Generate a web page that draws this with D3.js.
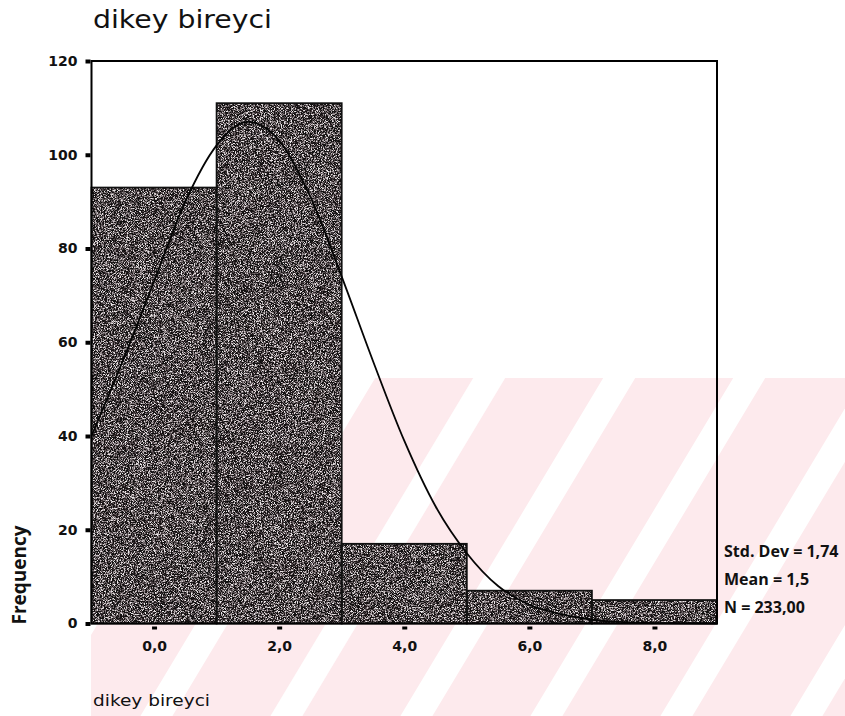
<!DOCTYPE html>
<html>
<head>
<meta charset="utf-8">
<script src="https://cdn.jsdelivr.net/npm/d3@7"></script>
<style>
  html, body { margin: 0; padding: 0; background: #fff; }
  svg { display: block; }
</style>
</head>
<body>
<svg id="chart" width="845" height="716"></svg>
<script>
// histogram bins (lower edge), width 2
const binStarts = [-1, 1, 3, 5, 7];
const counts = [93, 111, 17, 7, 5];
const binWidth = 2;

// normal curve
const curveX = [-1, -0.5, 0, 0.5, 1, 1.5, 2, 2.5, 3, 3.5, 4, 4.5, 5, 5.5, 6, 6.5, 7, 7.5, 8, 9];
const curveY = [40, 56, 73, 90, 102, 107, 103, 91, 74, 56, 39, 25, 15, 8, 4, 2, 0.8, 0.3, 0.1, 0];

const xTicks = [0, 2, 4, 6, 8];
const yTicks = [0, 20, 40, 60, 80, 100, 120];
const statLines = ["Std. Dev = 1,74", "Mean = 1,5", "N = 233,00"];

const width = 845, height = 716;
const margin = { top: 61, right: 128, bottom: 92.5, left: 91.5 };

const svg = d3.select("#chart");

// grainy fill for the scanned-looking bars
const defs = svg.append("defs");
const grain = defs.append("filter")
  .attr("id", "grain")
  .attr("x", 0).attr("y", 0).attr("width", "100%").attr("height", "100%")
  .attr("color-interpolation-filters", "sRGB");
grain.append("feTurbulence")
  .attr("type", "fractalNoise")
  .attr("baseFrequency", 1.3)
  .attr("numOctaves", 3)
  .attr("seed", 11)
  .attr("result", "noise");
grain.append("feColorMatrix")
  .attr("in", "noise")
  .attr("type", "matrix")
  .attr("values", "3.5 0 0 0 -1.47  3.5 0 0 0 -1.5  3.5 0 0 0 -1.49  0 0 0 0 1")
  .attr("result", "gray");
grain.append("feComposite")
  .attr("in", "gray")
  .attr("in2", "SourceGraphic")
  .attr("operator", "arithmetic")
  .attr("k1", 0).attr("k2", 0.85).attr("k3", 0.3).attr("k4", 0)
  .attr("result", "mix");
grain.append("feComposite")
  .attr("in", "mix")
  .attr("in2", "SourceAlpha")
  .attr("operator", "in");

// faint watermark behind everything
defs.append("clipPath").attr("id", "wmClip")
  .append("rect").attr("x", 91).attr("y", 378).attr("width", width - 91).attr("height", height - 378);
const wmg = svg.append("g").attr("class", "watermark").attr("clip-path", "url(#wmClip)");
wmg.append("rect").attr("x", 0).attr("y", 0).attr("width", width).attr("height", height).attr("fill", "#fdeaed");
for (let x0 = -195; x0 < width + 200; x0 += 130) {
  const slope = 0.6;
  const pts = [
    [x0 - (378 - 625) * slope, 378],
    [x0 + 32 - (378 - 625) * slope, 378],
    [x0 + 32 - (716 - 625) * slope, 716],
    [x0 - (716 - 625) * slope, 716]
  ];
  wmg.append("polygon").attr("points", pts.map(p => p.join(",")).join(" ")).attr("fill", "#fff");
}

// scales
const x = d3.scaleLinear()
  .domain([-1, 9])
  .range([margin.left, width - margin.right]);
const y = d3.scaleLinear()
  .domain([0, 120])
  .range([height - margin.bottom, margin.top]);

// bars
const bars = binStarts.map((b, i) => ({ start: b, count: counts[i] }));
svg.append("g").selectAll("rect")
  .data(bars)
  .enter()
  .append("rect")
  .attr("x", d => x(d.start))
  .attr("y", d => y(d.count))
  .attr("width", d => x(d.start + binWidth) - x(d.start))
  .attr("height", d => y(0) - y(d.count))
  .attr("fill", "#3a3435")
  .attr("filter", "url(#grain)");

svg.append("g").selectAll("rect")
  .data(bars)
  .enter()
  .append("rect")
  .attr("x", d => x(d.start))
  .attr("y", d => y(d.count))
  .attr("width", d => x(d.start + binWidth) - x(d.start))
  .attr("height", d => y(0) - y(d.count))
  .attr("fill", "none")
  .attr("stroke", "#111")
  .attr("stroke-width", 1.8);

// normal curve
const line = d3.line()
  .x((d, i) => x(curveX[i]))
  .y(d => y(d))
  .curve(d3.curveMonotoneX);
svg.append("path")
  .datum(curveY)
  .attr("d", line)
  .attr("fill", "none")
  .attr("stroke", "#050505")
  .attr("stroke-width", 1.8);

// frame
svg.append("rect")
  .attr("x", x(-1)).attr("y", y(120))
  .attr("width", x(9) - x(-1)).attr("height", y(0) - y(120))
  .attr("fill", "none")
  .attr("stroke", "#000")
  .attr("stroke-width", 2);

// y axis: small square ticks
const yAxis = svg.append("g")
  .attr("transform", `translate(${x(-1) - 1},0)`)
  .call(d3.axisLeft(y).tickValues(yTicks).tickSize(5).tickPadding(8).tickFormat(d3.format("d")));
yAxis.select(".domain").remove();
yAxis.selectAll(".tick line").attr("stroke", "#000").attr("stroke-width", 4);
yAxis.selectAll("text")
  .attr("font-family", "DejaVu Sans")
  .attr("font-weight", "bold")
  .attr("font-size", 14)
  .attr("fill", "#111");

// x axis: little dashes under the frame
const xAxis = svg.append("g")
  .attr("transform", `translate(0,${y(0) + 3})`)
  .call(d3.axisBottom(x).tickValues(xTicks).tickSize(3).tickPadding(12).tickFormat(d => d3.format(".1f")(d).replace(".", ",")));
xAxis.select(".domain").remove();
xAxis.selectAll(".tick line").attr("stroke", "#000").attr("stroke-width", 5);
xAxis.selectAll("text")
  .attr("font-family", "DejaVu Sans")
  .attr("font-weight", "bold")
  .attr("font-size", 14)
  .attr("fill", "#111");

// title
svg.append("text")
  .attr("x", 93).attr("y", 28)
  .attr("font-family", "DejaVu Sans")
  .attr("font-size", 24)
  .attr("textLength", 179)
  .attr("lengthAdjust", "spacingAndGlyphs")
  .attr("fill", "#111")
  .text("dikey bireyci");

// x axis title
svg.append("text")
  .attr("x", 93).attr("y", 706)
  .attr("font-family", "DejaVu Sans")
  .attr("font-size", 16)
  .attr("textLength", 117)
  .attr("lengthAdjust", "spacingAndGlyphs")
  .attr("fill", "#111")
  .text("dikey bireyci");

// y axis title
svg.append("text")
  .attr("transform", "translate(26,575) rotate(-90)")
  .attr("text-anchor", "middle")
  .attr("font-family", "Open Sans")
  .attr("font-weight", "bold")
  .attr("font-size", 19)
  .attr("fill", "#111")
  .text("Frequency");

// stats at right of the frame
svg.append("g").selectAll("text")
  .data(statLines)
  .enter()
  .append("text")
  .attr("x", 724)
  .attr("y", (d, i) => 557 + i * 28)
  .attr("font-family", "Open Sans")
  .attr("font-weight", "bold")
  .attr("font-size", 16)
  .attr("fill", "#111")
  .text(d => d);
</script>
</body>
</html>
